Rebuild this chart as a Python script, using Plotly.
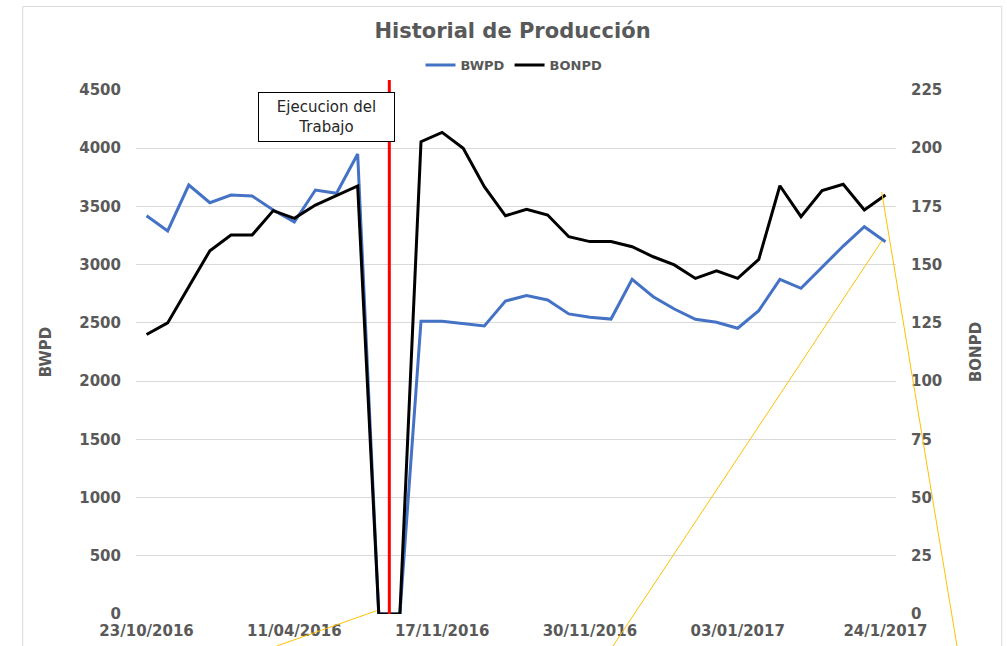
import plotly.graph_objects as go

# ---- data ----
idx = list(range(36))
tick_pos = [0, 7, 14, 21, 28, 35]
tick_labels = ["23/10/2016", "11/04/2016", "17/11/2016", "30/11/2016", "03/01/2017", "24/1/2017"]

bwpd = [3420, 3290, 3684, 3532, 3598, 3590, 3470, 3366, 3641, 3613, 3950,
        0, 0,
        2515, 2515, 2496, 2473, 2688, 2734, 2697, 2577, 2548, 2533, 2874, 2725, 2619,
        2531, 2505, 2454, 2605, 2874, 2797, 2980, 3160, 3326, 3197]

bonpd = [120, 125, 140.5, 156, 162.7, 162.7, 173.2, 169.9, 175.6, 179.6, 183.8,
         0, 0,
         202.8, 206.8, 200, 183.5, 171, 173.8, 171.3, 162, 159.9, 159.9, 157.7, 153.4, 149.9,
         144.1, 147.3, 144.1, 152.3, 183.9, 170.6, 181.8, 184.5, 173.5, 179.9]

event_pos = 11.5
event_text = "Ejecucion del<br>Trabajo"

# ---- figure ----
GRAY = "#595959"
FONT = "DejaVu Sans"

fig = go.Figure()
fig.add_trace(go.Scatter(x=idx, y=bwpd, name="<b>BWPD</b>", mode="lines",
                         line=dict(color="#4472C4", width=3)))
fig.add_trace(go.Scatter(x=idx, y=bonpd, name="<b>BONPD</b>", mode="lines", yaxis="y2",
                         line=dict(color="#000000", width=3)))

L, R, T, B = 136, 111, 90, 32
W, H = 1007, 646
pw, ph = W - L - R, H - T - B


def px(xp):
    return (xp - L) / pw


def py(yp):
    return (H - B - yp) / ph


shapes = [
    # outer frame
    dict(type="rect", xref="paper", yref="paper", x0=px(22.7), x1=px(1001.7),
         y0=py(700), y1=py(6.5), line=dict(color="#d9d9d9", width=1), layer="below"),
    # event line
    dict(type="line", xref="x", yref="paper", x0=event_pos, x1=event_pos, y0=0, y1=py(80),
         line=dict(color="#FF0000", width=3)),
    # leader lines
    dict(type="line", xref="paper", yref="paper", x0=px(376.7), y0=py(610.7), x1=px(276.7), y1=py(646),
         line=dict(color="#FFC000", width=1)),
    dict(type="line", xref="paper", yref="paper", x0=px(881.7), y0=py(241), x1=px(613), y1=py(646),
         line=dict(color="#FFC000", width=1)),
    dict(type="line", xref="paper", yref="paper", x0=px(881.7), y0=py(192), x1=px(957), y1=py(646),
         line=dict(color="#FFC000", width=1)),
]

fig.update_layout(
    width=W, height=H,
    margin=dict(l=L, r=R, t=T, b=B, autoexpand=False),
    paper_bgcolor="white", plot_bgcolor="white",
    font=dict(family=FONT, color=GRAY),
    title=dict(text="<b>Historial de Producción</b>", xref="container", x=512.5 / W, xanchor="center",
               yref="container", y=1 - 31 / H, yanchor="middle",
               font=dict(size=21, color=GRAY, family=FONT)),
    legend=dict(orientation="h", x=px(514), xanchor="center", y=py(65), yanchor="middle",
                font=dict(size=13, color=GRAY, family=FONT),
                itemwidth=30, bgcolor="rgba(0,0,0,0)"),
    showlegend=True,
    xaxis=dict(range=[-0.5, 35.5], tickmode="array", tickvals=tick_pos,
               ticktext=[f"<b>{t}</b>" for t in tick_labels],
               showgrid=False, zeroline=False, showline=False, ticks="",
               tickfont=dict(size=15, color=GRAY, family=FONT), ticklabelstandoff=6),
    yaxis=dict(range=[0, 4500], dtick=500, showgrid=True, gridcolor="#d9d9d9", gridwidth=1,
               zeroline=False, showline=False, ticks="", ticklabelstandoff=14,
               tickprefix="<b>", ticksuffix="</b>",
               tickfont=dict(size=15, color=GRAY, family=FONT),
               title=dict(text="<b>BWPD</b>", font=dict(size=15, color=GRAY, family=FONT), standoff=24)),
    yaxis2=dict(range=[0, 225], dtick=25, overlaying="y", side="right", showgrid=False,
                zeroline=False, showline=False, ticks="", ticklabelstandoff=14,
                tickprefix="<b>", ticksuffix="</b>",
                tickfont=dict(size=15, color=GRAY, family=FONT),
                title=dict(text="<b>BONPD</b>", font=dict(size=15, color=GRAY, family=FONT), standoff=29)),
    shapes=shapes,
    annotations=[
        dict(text=event_text, xref="paper", yref="paper", x=px(326.2), y=py(117.3),
             xanchor="center", yanchor="middle", showarrow=False,
             font=dict(size=15, color="#262626", family=FONT),
             bgcolor="white", bordercolor="#000000", borderwidth=1, borderpad=0,
             width=135, height=48, align="center"),
    ],
)

fig.write_html("out.html", config={"displayModeBar": False},
               post_script="document.body.style.margin='0';document.body.style.overflow='hidden';")
